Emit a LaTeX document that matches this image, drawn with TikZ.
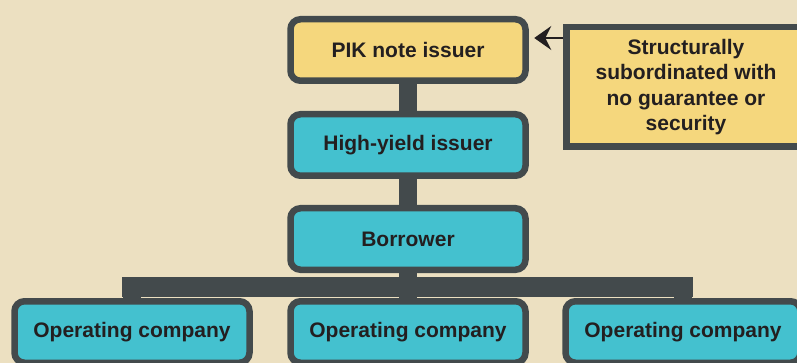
\documentclass[tikz,border=0pt]{standalone}
\usepackage{fontspec}
\setmainfont{Liberation Sans}
\usetikzlibrary{arrows.meta,backgrounds}
\definecolor{bgbeige}{HTML}{ECE0C1}
\definecolor{boxyellow}{HTML}{F5D77D}
\definecolor{boxteal}{HTML}{44C1CF}
\definecolor{edgegray}{HTML}{434A4C}
\definecolor{inkdark}{HTML}{231F20}
\begin{document}
\begin{tikzpicture}[x=1pt,y=-1pt,
  box/.style={draw=edgegray, line width=6.5pt, rounded corners=10pt,
    minimum width=235pt, minimum height=61.5pt, inner sep=0pt,
    font=\fontsize{21}{25}\selectfont\bfseries, text=inkdark},
  yellowbox/.style={box, fill=boxyellow},
  tealbox/.style={box, fill=boxteal},
  notebox/.style={draw=edgegray, line width=6.5pt, fill=boxyellow,
    minimum width=239.5pt, minimum height=119.5pt, inner sep=0pt,
    align=center, font=\fontsize{21}{25.5}\selectfont\bfseries, text=inkdark},
  conn/.style={draw=edgegray, line width=18pt},
  bus/.style={draw=edgegray, line width=20pt, line cap=rect},
  pointer/.style={draw=inkdark, line width=1.3pt,
    -{Stealth[length=17pt,width=24pt,inset=6pt]}, shorten >=5.5pt}
]
\useasboundingbox (0,0) rectangle (797,363);

\node[yellowbox] (pik) at (408,50) {PIK note issuer};
\node[tealbox] (hy) at (408,145) {High-yield issuer};
\node[tealbox] (bor) at (408,239) {Borrower};
\node[tealbox] (op1) at (132,332) {Operating company};
\node[tealbox] (op2) at (408,332) {Operating company};
\node[tealbox] (op3) at (683,332) {Operating company};
\node[notebox] (side) at (686,87) {Structurally\\subordinated with\\no guarantee or\\security};

\coordinate (bar) at (408,287);
\coordinate (arr) at (0,38);

\begin{scope}[on background layer]
  \fill[bgbeige] (0,0) rectangle (797,363);
  \draw[conn] (pik.center) -- (hy.center);
  \draw[conn] (hy.center) -- (bor.center);
  \draw[conn] (bor.center) -- (op2.center);
  \draw[bus] (op1 |- bar) -- (op3 |- bar);
  \draw[conn] (op1.center) -- (op1 |- bar);
  \draw[conn] (op3.center) -- (op3 |- bar);
\end{scope}

\draw[pointer] (side.west |- arr) -- (pik.east |- arr);
\end{tikzpicture}
\end{document}
